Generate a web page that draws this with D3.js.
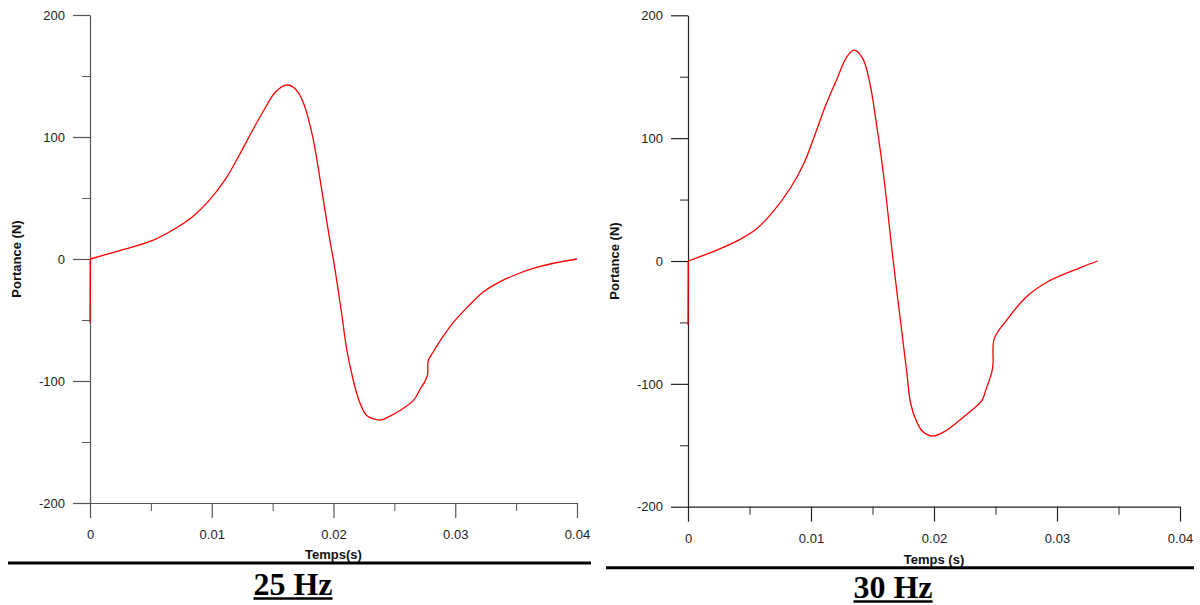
<!DOCTYPE html>
<html>
<head>
<meta charset="utf-8">
<script src="https://cdn.jsdelivr.net/npm/d3@7/dist/d3.min.js"></script>
<style>
  html, body { margin: 0; padding: 0; background: #ffffff; }
  svg { display: block; }
</style>
</head>
<body>
<svg id="chart" width="1200" height="605"></svg>
<script>
// ---------------- DATA ----------------
const yMajorTicks = [-200, -100, 0, 100, 200];
const yMinorTicks = [-150, -50, 50, 150];
const xMajorTicks = [0, 0.01, 0.02, 0.03, 0.04];
const xMinorTicks = [0.005, 0.015, 0.025, 0.035];

const xAxisTitles = ["Temps(s)", "Temps (s)"];
const yAxisTitle = "Portance (N)";
const panelTitles = ["25 Hz", "30 Hz"];

// 25 Hz : time (s) and lift (N)
const time25 = [0, 0.00002, 0.0023, 0.0051, 0.0070, 0.0084, 0.0097, 0.0111, 0.0122, 0.0133, 0.0144,
  0.0152, 0.0161, 0.0166, 0.0171, 0.0176, 0.0181, 0.0185, 0.0189, 0.0193, 0.0197, 0.0200,
  0.0203, 0.0207, 0.0211, 0.0215, 0.0219, 0.0223, 0.0227, 0.0238, 0.0246, 0.0255, 0.0266,
  0.0271, 0.0275, 0.02772, 0.02779, 0.0282, 0.0290, 0.0298, 0.0309, 0.0323, 0.0337, 0.0351,
  0.0364, 0.0378, 0.0400];
const lift25 = [-52, 0, 6.5, 15, 25, 34.5, 47, 65, 84, 104.5, 124,
  136.5, 142.5, 141.5, 136.5, 126, 108.5, 89.5, 65, 40, 15.5, -1,
  -20, -47, -75, -94, -110, -121, -128, -132, -129, -124, -115.5,
  -107, -100.5, -95, -83, -76, -63.5, -52.5, -40.5, -27, -18.5, -12.3,
  -7.7, -4.1, 0];

// 30 Hz : time (s) and lift (N)
const time30 = [0, 0.00002, 0.0023, 0.0042, 0.0056, 0.0069, 0.0083, 0.0094, 0.0104, 0.0112,
  0.0121, 0.0129, 0.0135, 0.0142, 0.0148, 0.0153, 0.0159, 0.01656, 0.0170, 0.0174, 0.0178,
  0.0181, 0.0186, 0.0191, 0.0199, 0.0210, 0.0224, 0.0239, 0.0242, 0.0247, 0.0248, 0.0249,
  0.0259, 0.0275, 0.0292, 0.0319, 0.0333];
const lift30 = [-52, 0, 8.7, 17.4, 26.4, 40, 59, 79, 105, 127,
  148, 166, 171.6, 165, 144, 113, 70, 11, -26.5, -59, -91.7,
  -116, -131, -139, -142.5, -138, -127, -113.4, -105.3, -90.4, -83.6, -63.2,
  -48.3, -29.3, -17.1, -5.4, 0];

// ---------------- LAYOUT ----------------
const panels = [
  { time: time25, lift: lift25, xTitle: xAxisTitles[0], title: panelTitles[0],
    x0: 90, x1: 577, yTop: 15, yBot: 503, axisColor: "#555",
    yLabelX: 21, xTitleY: 559, ruleY: 563, ruleX0: 8, ruleX1: 591,
    titleX: 293, titleY: 595 },
  { time: time30, lift: lift30, xTitle: xAxisTitles[1], title: panelTitles[1],
    x0: 688, x1: 1180, yTop: 15.3, yBot: 506.7, axisColor: "#222",
    yLabelX: 619, xTitleY: 564, ruleY: 567.7, ruleX0: 606, ruleX1: 1194,
    titleX: 893, titleY: 598 }
];

const svg = d3.select("#chart");
const fmt = d => String(d);

panels.forEach(p => {
  const x = d3.scaleLinear().domain([0, 0.04]).range([p.x0, p.x1]);
  const y = d3.scaleLinear().domain([-200, 200]).range([p.yBot, p.yTop]);
  const g = svg.append("g");

  // minor ticks
  g.append("g").attr("transform", `translate(${p.x0},0)`)
    .call(d3.axisLeft(y).tickValues(yMinorTicks).tickSize(8).tickFormat(""))
    .call(s => s.select(".domain").remove())
    .call(s => s.selectAll("line").attr("stroke", p.axisColor));
  g.append("g").attr("transform", `translate(0,${p.yBot})`)
    .call(d3.axisBottom(x).tickValues(xMinorTicks).tickSize(8).tickFormat(""))
    .call(s => s.select(".domain").remove())
    .call(s => s.selectAll("line").attr("stroke", p.axisColor));

  // major axes
  const yAx = g.append("g").attr("transform", `translate(${p.x0},0)`)
    .call(d3.axisLeft(y).tickValues(yMajorTicks).tickSizeInner(17).tickSizeOuter(0)
      .tickPadding(8).tickFormat(fmt));
  const xAx = g.append("g").attr("transform", `translate(0,${p.yBot})`)
    .call(d3.axisBottom(x).tickValues(xMajorTicks).tickSizeInner(15).tickSizeOuter(0)
      .tickPadding(12).tickFormat(fmt));
  [yAx, xAx].forEach(a => {
    a.attr("font-family", "'Liberation Sans', Arial, sans-serif").attr("font-size", 13);
    a.selectAll("line").attr("stroke", p.axisColor).attr("stroke-width", 1.2);
    a.select(".domain").attr("stroke", p.axisColor).attr("stroke-width", 1.2);
    a.selectAll("text").attr("fill", "#222");
  });

  // curve: initial vertical transient drawn straight, the rest smoothed
  const pts = p.time.map((t, i) => [t, p.lift[i]]);
  const lin = d3.line().x(d => x(d[0])).y(d => y(d[1]));
  const smooth = d3.line().x(d => x(d[0])).y(d => y(d[1])).curve(d3.curveCatmullRom.alpha(0.5));
  g.append("path").datum(pts.slice(0, 2))
    .attr("fill", "none").attr("stroke", "#ff0000").attr("stroke-width", 1.3)
    .attr("d", lin);
  g.append("path").datum(pts.slice(1))
    .attr("fill", "none").attr("stroke", "#ff0000").attr("stroke-width", 1.3)
    .attr("stroke-linejoin", "round")
    .attr("d", smooth);

  // axis titles
  g.append("text")
    .attr("transform", `translate(${p.yLabelX},${(p.yTop + p.yBot) / 2}) rotate(-90)`)
    .attr("text-anchor", "middle")
    .attr("font-family", "'Liberation Sans', Arial, sans-serif")
    .attr("font-weight", "bold").attr("font-size", 13).attr("fill", "#111")
    .text(yAxisTitle);
  g.append("text")
    .attr("x", (p.x0 + p.x1) / 2).attr("y", p.xTitleY)
    .attr("text-anchor", "middle")
    .attr("font-family", "'Liberation Sans', Arial, sans-serif")
    .attr("font-weight", "bold").attr("font-size", 13).attr("fill", "#111")
    .text(p.xTitle);

  // thick rule
  g.append("line")
    .attr("x1", p.ruleX0).attr("x2", p.ruleX1).attr("y1", p.ruleY).attr("y2", p.ruleY)
    .attr("stroke", "#000").attr("stroke-width", 3);

  // panel title (underlined)
  const t = g.append("text")
    .attr("x", p.titleX).attr("y", p.titleY)
    .attr("text-anchor", "middle")
    .attr("font-family", "'Liberation Serif', 'Times New Roman', serif")
    .attr("font-weight", "bold").attr("font-size", 32).attr("fill", "#000")
    .text(p.title);
  const w = t.node().getComputedTextLength();
  g.append("line")
    .attr("x1", p.titleX - w / 2).attr("x2", p.titleX + w / 2)
    .attr("y1", p.titleY + 3.5).attr("y2", p.titleY + 3.5)
    .attr("stroke", "#000").attr("stroke-width", 2.5);
});
</script>
</body>
</html>
